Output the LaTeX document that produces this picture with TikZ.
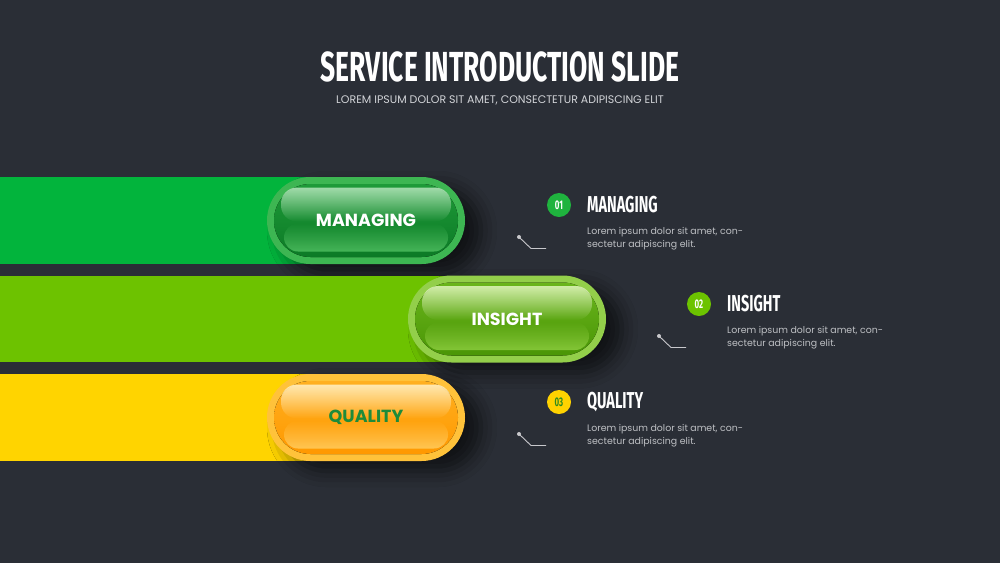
\documentclass[tikz,border=0pt]{standalone}
\usepackage{fontspec}
\setmainfont{Poppins}
\newfontfamily\condfont[FakeStretch=0.63]{Fira Sans}
\usetikzlibrary{shadows.blur,fadings}
\definecolor{bg}{HTML}{2A2E36}
\definecolor{barG}{HTML}{02B43C}
\definecolor{barL}{HTML}{6DC200}
\definecolor{barY}{HTML}{FFD400}
% green pill
\definecolor{g-ring}{HTML}{3DB652}
\definecolor{g-top}{HTML}{1E9A38}
\definecolor{g-mid}{HTML}{0B7D27}
\definecolor{g-bot}{HTML}{0C7A26}
\definecolor{g-hl}{HTML}{A8DEB0}
\definecolor{g-glow}{HTML}{4CBC5E}
\definecolor{g-text}{HTML}{FFFFFF}
% lime pill
\definecolor{l-ring}{HTML}{93CF4A}
\definecolor{l-top}{HTML}{6AB51C}
\definecolor{l-mid}{HTML}{56A20A}
\definecolor{l-bot}{HTML}{4A9606}
\definecolor{l-hl}{HTML}{D6EFB0}
\definecolor{l-glow}{HTML}{8ACB3C}
\definecolor{l-text}{HTML}{FFFFFF}
% orange pill
\definecolor{o-ring}{HTML}{FFC23A}
\definecolor{o-top}{HTML}{FFB020}
\definecolor{o-mid}{HTML}{FFA600}
\definecolor{o-bot}{HTML}{FF9800}
\definecolor{o-hl}{HTML}{FFEBB8}
\definecolor{o-glow}{HTML}{FFCB5C}
\definecolor{o-text}{HTML}{1E8B3A}
\definecolor{bodytxt}{HTML}{BEC0C4}
\definecolor{subtxt}{HTML}{D2D4D8}
\definecolor{conncol}{HTML}{C8C8CC}
\definecolor{numG}{HTML}{1FB33E}
\definecolor{numL}{HTML}{6CC300}
\definecolor{numY}{HTML}{FFD200}
\definecolor{numYtxt}{HTML}{2E8B1E}

\newcommand\mypill[5]{%
  \path[blur shadow={shadow xshift=16pt,shadow yshift=-10pt,shadow blur radius=16pt,shadow opacity=60},
        fill=#4-ring, rounded corners=43.5pt] (#2-99,#3-43.5) rectangle (#2+99,#3+43.5);
  \fill[rounded corners=36.5pt, top color=#4-top, middle color=#4-mid, bottom color=#4-bot]
        (#2-92,#3-36.5) rectangle (#2+92,#3+36.5);
  \fill[rounded corners=16pt, fill=#4-hl, path fading=south, fill opacity=0.95]
        (#2-85,#3-33) rectangle (#2+85,#3+1);
  \fill[rounded corners=14pt, fill=#4-glow, path fading=north, fill opacity=0.9]
        (#2-82,#3+3) rectangle (#2+82,#3+31);
  \node[pilltext, text=#4-text] (#1) at (#2,#3) {#5};
}

\newcommand\myitem[7]{% name, cx, cy, circle colour, number colour, number, title
  \node[numdot, fill=#4, text=#5] (#1num) at (#2,#3) {#6};
  \node[itemtitle] (#1title) at (#2+28,#3) {#7};
  \node[bodyline] (#1l1) at (#2+28,#3+29) {Lorem ipsum dolor sit amet, con-};
  \node[bodyline] (#1l2) at (#2+28,#3+42) {sectetur adipiscing elit.};
  \coordinate (#1dot) at (#2-40,#3+32);
  \coordinate (#1bend) at (#2-28,#3+43.5);
  \coordinate (#1end) at (#2-13,#3+43.5);
  \draw[connector] (#1dot) -- (#1bend) -- (#1end);
  \fill[conncol] (#1dot) circle (2);
}

\begin{document}
\begin{tikzpicture}[x=1pt,y=-1pt,
  pilltext/.style={font=\bfseries\fontsize{17.5}{19}\selectfont, inner sep=0pt},
  numdot/.style={circle, minimum size=24pt, inner sep=0pt, font=\condfont\bfseries\fontsize{12.5}{12.5}\selectfont},
  itemtitle/.style={anchor=west, inner sep=0pt, text=white, font=\condfont\bfseries\fontsize{23}{23}\selectfont},
  bodyline/.style={anchor=base west, inner sep=0pt, text=bodytxt, font=\fontsize{9.4}{11}\selectfont},
  connector/.style={draw=conncol, line width=0.9pt}]
\fill[bg] (0,0) rectangle (1000,563);
\useasboundingbox (0,0) rectangle (1000,563);

\node[text=white, inner sep=0pt, font=\condfont\bfseries\fontsize{42}{42}\selectfont] (title) at (500,67) {SERVICE INTRODUCTION SLIDE};
\node[text=subtxt, inner sep=0pt, font=\fontsize{11}{13}\selectfont] (subtitle) at (500,100) {LOREM IPSUM DOLOR SIT AMET, CONSECTETUR ADIPISCING ELIT};

% row 1
\fill[barG] (0,177) rectangle (366,264);
\mypill{pillA}{366}{220.5}{g}{MANAGING}
% row 2
\fill[barL] (0,276) rectangle (507,362);
\mypill{pillB}{507}{319}{l}{INSIGHT}
% row 3
\fill[barY] (0,374) rectangle (366,461);
\mypill{pillC}{366}{417.5}{o}{QUALITY}

\myitem{itA}{559}{205}{numG}{white}{01}{MANAGING}
\myitem{itB}{699}{304}{numL}{white}{02}{INSIGHT}
\myitem{itC}{559}{402}{numY}{numYtxt}{03}{QUALITY}
\end{tikzpicture}
\end{document}
